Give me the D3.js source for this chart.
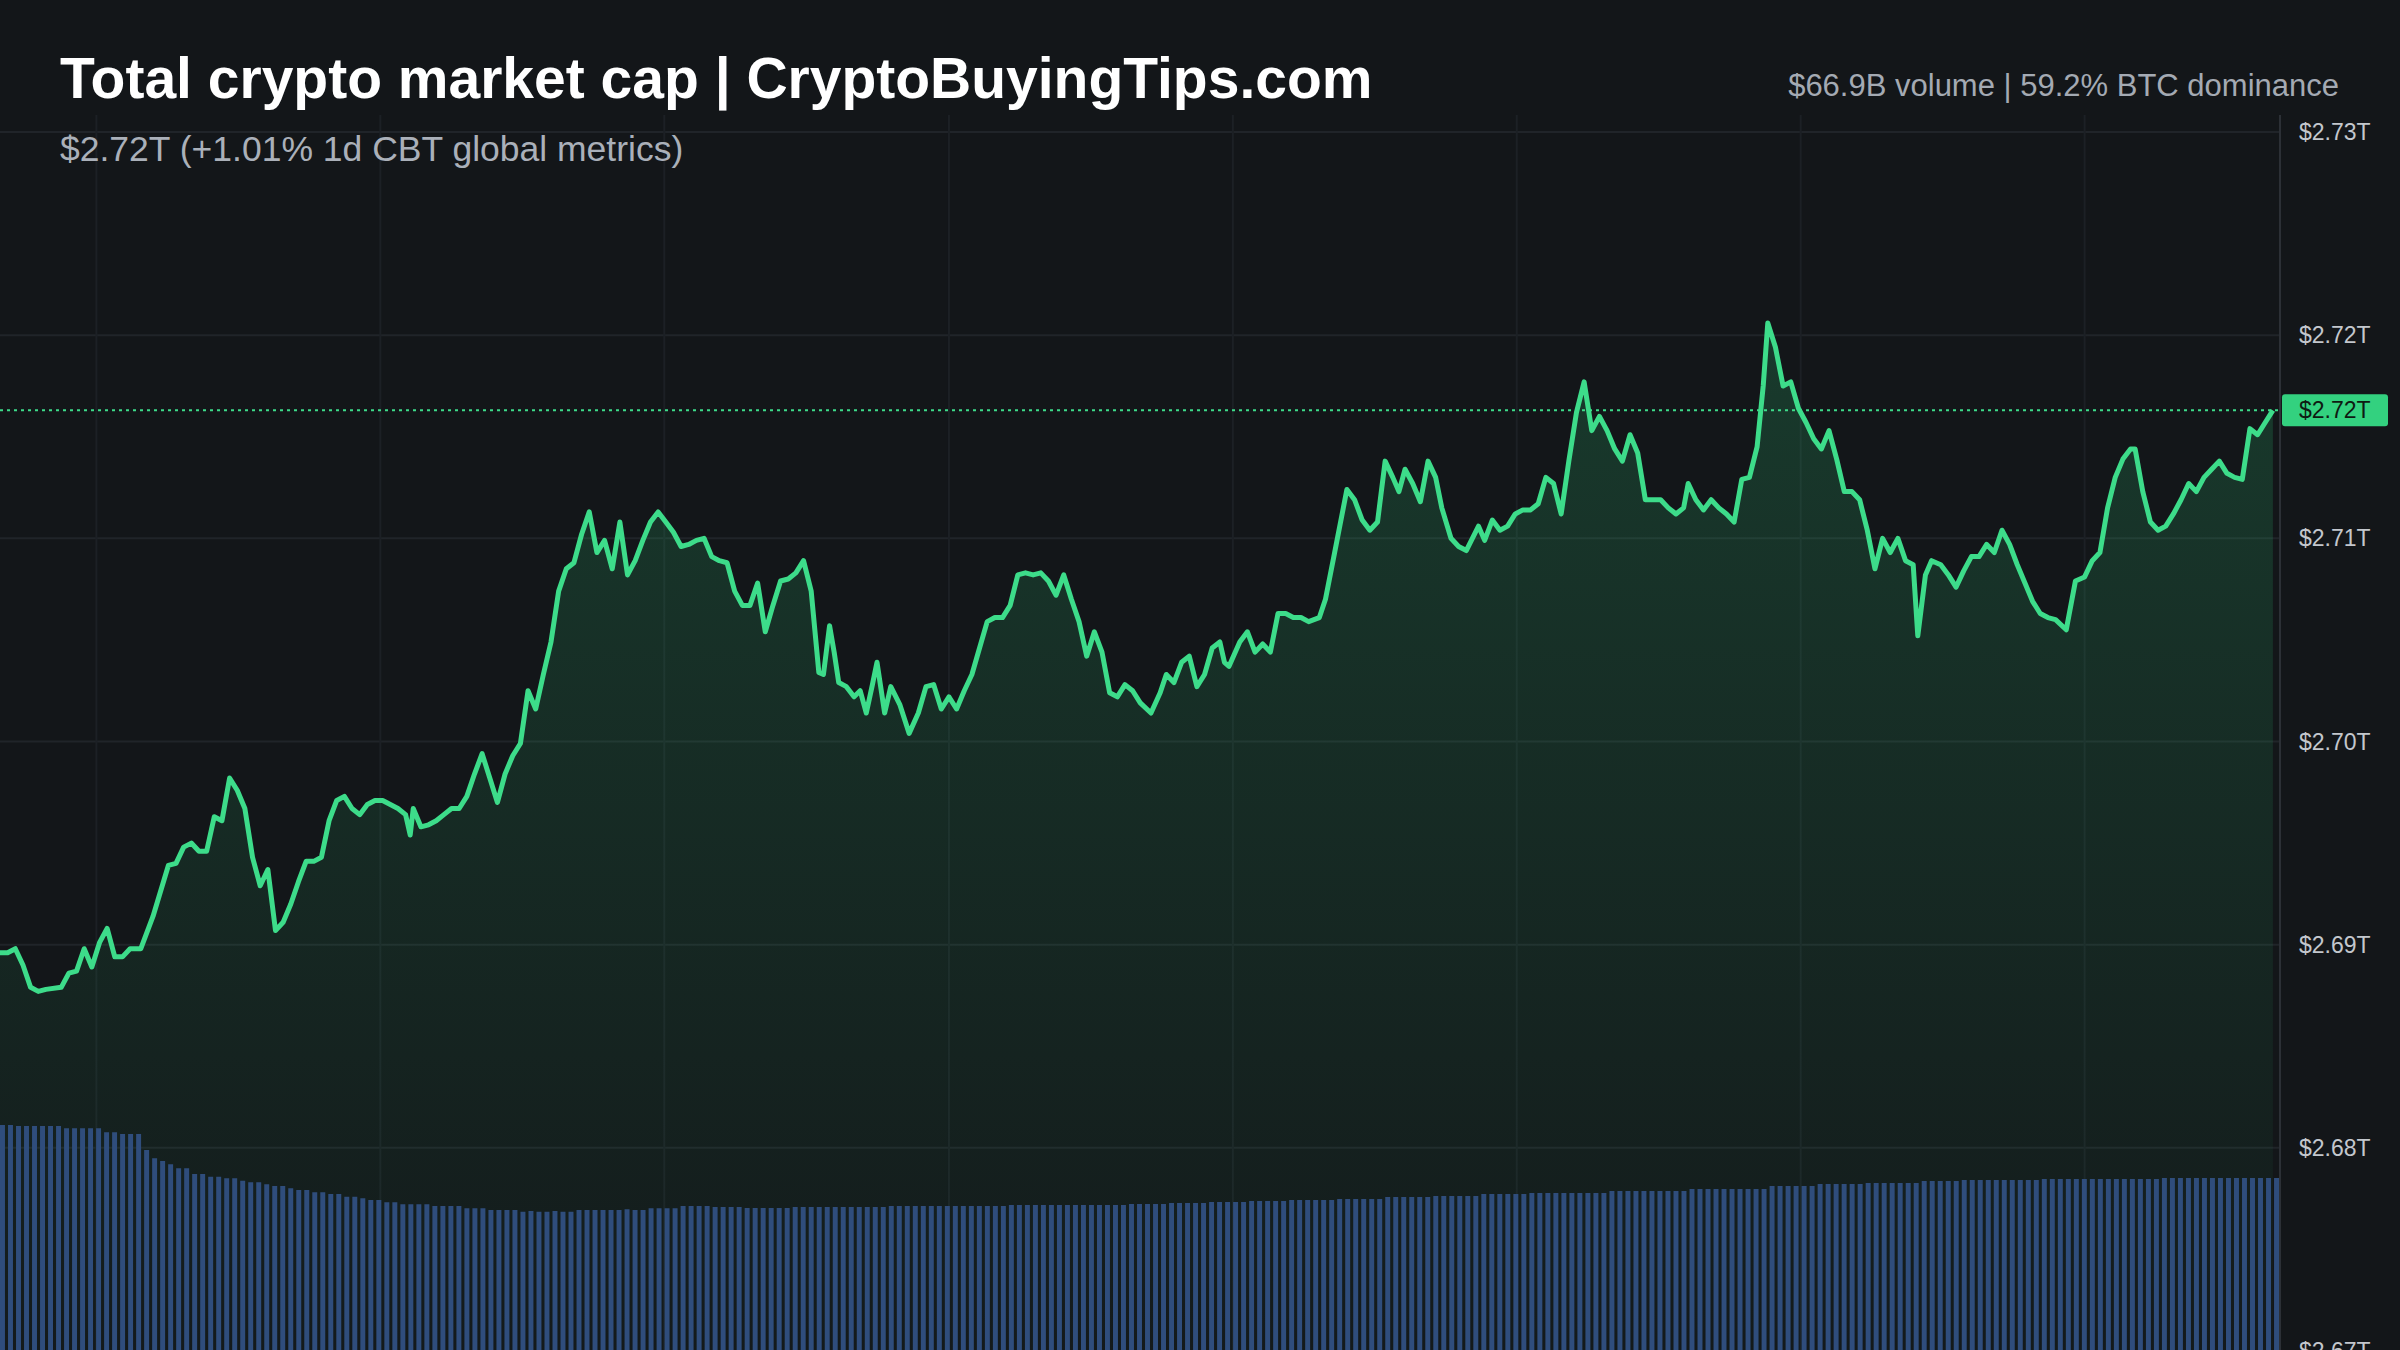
<!DOCTYPE html>
<html>
<head>
<meta charset="utf-8">
<script src="https://cdn.jsdelivr.net/npm/d3@7"></script>
<style>
  html, body { margin: 0; padding: 0; background: #131619; }
  svg { display: block; }
</style>
</head>
<body>
<svg id="chart" width="2400" height="1350"></svg>
<script>
// time offsets (chart units) and total market cap in $T
var times = [0,5,10,15,20,25,30,40,45,50,55,60,65,70,75,80,85,92,100,110,115,120,125,130,135,140,145,150,155,160,165,170,175,180,185,190,195,200,205,210,215,220,225,230,235,240,245,250,255,260,265,268,270,275,280,285,290,295,300,305,310,315,320,325,330,335,340,345,350,355,360,365,370,375,380,385,390,395,400,405,410,415,420,425,430,435,440,445,450,455,460,465,470,475,480,485,490,495,500,505,510,515,520,525,530,535,538,542,545,548,553,558,562,566,570,573,578,582,588,594,600,605,610,615,620,625,630,635,640,645,650,655,660,665,670,675,680,685,690,695,700,705,710,715,720,725,730,735,740,745,752,758,762,767,772,777,782,787,792,797,800,803,810,815,820,825,830,835,840,845,850,855,862,866,872,880,885,890,895,900,905,910,914,918,923,928,933,938,942,948,953,958,962,966,970,975,980,985,990,995,1000,1005,1010,1015,1020,1025,1030,1035,1040,1045,1050,1055,1060,1065,1070,1075,1080,1085,1090,1095,1100,1103,1108,1113,1118,1123,1128,1133,1138,1143,1148,1152,1155,1160,1165,1170,1175,1180,1185,1190,1195,1200,1205,1210,1215,1220,1225,1230,1235,1240,1245,1250,1253,1258,1262,1268,1273,1278,1283,1288,1293,1298,1303,1308,1313,1318,1323,1328,1333,1338,1343,1350,1356,1362,1367,1372,1377,1382,1387,1392,1395,1400,1405,1410,1415,1420,1425,1430,1435,1440,1445,1450,1455,1460,1465,1470,1475,1480,1485];
var marketCap = [2.6896,2.6896,2.6898,2.6890,2.6879,2.6877,2.6878,2.6879,2.6886,2.6887,2.6898,2.6889,2.6901,2.6908,2.6894,2.6894,2.6898,2.6898,2.6914,2.6939,2.6940,2.6948,2.6950,2.6946,2.6946,2.6963,2.6961,2.6982,2.6976,2.6967,2.6943,2.6929,2.6937,2.6907,2.6911,2.6920,2.6931,2.6941,2.6941,2.6943,2.6961,2.6971,2.6973,2.6967,2.6964,2.6969,2.6971,2.6971,2.6969,2.6967,2.6964,2.6954,2.6967,2.6958,2.6959,2.6961,2.6964,2.6967,2.6967,2.6973,2.6984,2.6994,2.6982,2.6970,2.6984,2.6993,2.6999,2.7025,2.7016,2.7033,2.7049,2.7074,2.7085,2.7088,2.7102,2.7113,2.7093,2.7099,2.7085,2.7108,2.7082,2.7089,2.7099,2.7108,2.7113,2.7108,2.7103,2.7096,2.7097,2.7099,2.7100,2.7091,2.7089,2.7088,2.7074,2.7067,2.7067,2.7078,2.7054,2.7067,2.7079,2.7080,2.7083,2.7089,2.7074,2.7034,2.7033,2.7057,2.7044,2.7029,2.7027,2.7022,2.7025,2.7014,2.7028,2.7039,2.7014,2.7027,2.7018,2.7004,2.7014,2.7027,2.7028,2.7016,2.7022,2.7016,2.7025,2.7033,2.7046,2.7059,2.7061,2.7061,2.7067,2.7082,2.7083,2.7082,2.7083,2.7079,2.7072,2.7082,2.7070,2.7059,2.7042,2.7054,2.7044,2.7024,2.7022,2.7028,2.7025,2.7019,2.7014,2.7024,2.7033,2.7029,2.7039,2.7042,2.7027,2.7033,2.7046,2.7049,2.7039,2.7037,2.7049,2.7054,2.7044,2.7048,2.7044,2.7063,2.7063,2.7061,2.7061,2.7059,2.7061,2.7070,2.7093,2.7124,2.7119,2.7109,2.7104,2.7108,2.7138,2.7130,2.7123,2.7134,2.7127,2.7118,2.7138,2.7130,2.7115,2.7100,2.7096,2.7094,2.7100,2.7106,2.7099,2.7109,2.7104,2.7106,2.7112,2.7114,2.7114,2.7117,2.7130,2.7127,2.7112,2.7138,2.7162,2.7177,2.7153,2.7160,2.7153,2.7144,2.7138,2.7151,2.7142,2.7119,2.7119,2.7119,2.7115,2.7112,2.7115,2.7127,2.7119,2.7114,2.7119,2.7115,2.7112,2.7108,2.7129,2.7130,2.7145,2.7175,2.7206,2.7194,2.7175,2.7177,2.7164,2.7157,2.7149,2.7144,2.7153,2.7139,2.7123,2.7123,2.7119,2.7104,2.7085,2.7100,2.7093,2.7100,2.7089,2.7087,2.7052,2.7082,2.7089,2.7087,2.7082,2.7076,2.7084,2.7091,2.7091,2.7097,2.7093,2.7104,2.7097,2.7087,2.7078,2.7069,2.7063,2.7061,2.7060,2.7055,2.7079,2.7081,2.7089,2.7093,2.7115,2.7130,2.7139,2.7144,2.7144,2.7123,2.7108,2.7104,2.7106,2.7112,2.7119,2.7127,2.7123,2.7130,2.7134,2.7138,2.7132,2.7130,2.7129,2.7154,2.7151,2.7157,2.7163];

// volume per bar (relative units)
var volume = [90,90,89.6,89.6,89.6,89.6,89.6,89.6,88.7,88.7,88.7,88.7,88.7,87.1,87.1,86.4,86.4,86.4,80,76.7,75.6,74.3,72.7,72.7,70.4,70.4,69.3,69.3,68.7,68.7,67.7,67.1,67.1,66.3,65.6,65.6,64.7,64,64,63.1,63.1,62.4,62.4,61.3,61.3,60.7,60,60,59.1,59.1,58.3,58.3,58.3,58.3,57.6,57.6,57.6,57.6,56.7,56.7,56.7,56,56,56,56,55.3,55.6,55.3,55.3,55.6,55.3,55.3,56,56,56,56,56,56,56.3,56,56,56.7,56.7,56.7,56.7,57.6,57.6,
  57.6,57.6,57.2,57.2,57.2,57.2,56.8,56.8,56.8,56.8,56.8,56.8,57.2,57.2,57.2,57.2,57.2,57.2,57.2,57.2,57.2,57.2,57.2,57.2,57.6,57.6,57.6,57.6,57.6,
  57.6,57.6,57.6,57.6,57.6,57.6,57.6,57.6,57.6,57.6,58,58,58,58,58,58,58,58,58,58,58,58,58,58,58,
  58.4,58.4,58.4,58.4,58.4,58.8,58.8,58.8,58.8,58.8,59.2,59.2,59.2,59.2,59.2,59.6,59.6,59.6,59.6,59.6,
  60,60,60,60,60,60,60.4,60.4,60.4,60.4,60.4,60.4,61.2,61.2,61.2,61.2,61.2,61.2,61.6,61.6,61.6,61.6,61.6,61.6,62.4,62.4,62.4,62.4,62.4,62.4,
  62.8,62.8,62.8,62.8,62.8,62.8,62.8,62.8,62.8,62.8,63.6,63.6,63.6,63.6,63.6,63.6,63.6,63.6,63.6,63.6,64.4,64.4,64.4,64.4,64.4,64.4,64.4,64.4,64.4,64.4,
  65.6,65.6,65.6,65.6,65.6,65.6,66.4,66.4,66.4,66.4,66.4,66.4,66.8,66.8,66.8,66.8,66.8,66.8,66.8,
  67.6,67.6,67.6,67.6,67.6,68,68,68,68,68,68,68,68,68,68,68.4,68.4,68.4,68.4,68.4,68.4,68.4,68.4,68.4,68.4,68.4,68.4,68.4,68.4,68.4,68.8,68.8,68.8,68.8,68.8,68.8,68.8,68.8,68.8,68.8,68.8,68.8,68.8,68.8,68.8];

var yTicks = [2.73, 2.72, 2.71, 2.70, 2.69, 2.68, 2.67];
var xGridTimes = [63, 248.5, 434, 620, 805.5, 991, 1176.5, 1362];

var title = "Total crypto market cap | CryptoBuyingTips.com";
var subtitle = "$2.72T (+1.01% 1d CBT global metrics)";
var statsText = "$66.9B volume | 59.2% BTC dominance";

var W = 2400, H = 1350, plotRight = 2279;
var svg = d3.select("#chart");

var x = d3.scaleLinear().domain([0, 1489]).range([0, plotRight]);
var y = d3.scaleLinear().domain([2.67, 2.73]).range([1351, 132]);
var vy = d3.scaleLinear().domain([0, 100]).range([H, H - 250]);
var bx = d3.scaleBand().domain(d3.range(volume.length)).range([0, plotRight]).paddingInner(0.38);

var defs = svg.append("defs");
var grad = defs.append("linearGradient").attr("id", "areaGrad")
  .attr("x1", 0).attr("y1", 0).attr("x2", 0).attr("y2", 1);
grad.append("stop").attr("offset", "0%").attr("stop-color", "#2ecc7a").attr("stop-opacity", 0.2);
grad.append("stop").attr("offset", "100%").attr("stop-color", "#2ecc7a").attr("stop-opacity", 0.02);

// grid
svg.append("g").selectAll("line").data(yTicks).enter().append("line")
  .attr("x1", 0).attr("x2", plotRight)
  .attr("y1", function(d) { return y(d); }).attr("y2", function(d) { return y(d); })
  .attr("stroke", "#202429").attr("stroke-width", 2);
svg.append("g").selectAll("line").data(xGridTimes).enter().append("line")
  .attr("x1", function(d) { return x(d); }).attr("x2", function(d) { return x(d); })
  .attr("y1", 115).attr("y2", H)
  .attr("stroke", "#1c2025").attr("stroke-width", 2);

var pts = times.map(function(t, i) { return [t, marketCap[i]]; });

svg.append("path").datum(pts)
  .attr("fill", "url(#areaGrad)")
  .attr("d", d3.area().x(function(d) { return x(d[0]); }).y0(H).y1(function(d) { return y(d[1]); }));

// volume bars
svg.append("g").selectAll("rect").data(volume).enter().append("rect")
  .attr("x", function(d, i) { return bx(i); })
  .attr("width", bx.bandwidth())
  .attr("y", function(d) { return vy(d); })
  .attr("height", function(d) { return H - vy(d); })
  .attr("fill", "#2f4d7c");

svg.append("path").datum(pts)
  .attr("fill", "none").attr("stroke", "#3ddc8a").attr("stroke-width", 5)
  .attr("stroke-linejoin", "round")
  .attr("d", d3.line().x(function(d) { return x(d[0]); }).y(function(d) { return y(d[1]); }));

// right axis
svg.append("line").attr("x1", plotRight + 1).attr("x2", plotRight + 1)
  .attr("y1", 115).attr("y2", H).attr("stroke", "#2c3036").attr("stroke-width", 2);
var fmt = function(d) { return "$" + d3.format(".2f")(d) + "T"; };
svg.append("g").selectAll("text").data(yTicks).enter().append("text")
  .attr("x", 2299).attr("y", function(d) { return y(d) + 8; })
  .attr("fill", "#c3c7cd").attr("font-family", "Liberation Sans, Arial, sans-serif")
  .attr("font-size", 23).text(fmt);

// last price marker
var last = marketCap[marketCap.length - 1];
svg.append("line").attr("x1", 0).attr("x2", plotRight)
  .attr("y1", y(last)).attr("y2", y(last))
  .attr("stroke", "#3ddc8a").attr("stroke-width", 2).attr("stroke-dasharray", "3,4");
svg.append("rect").attr("x", plotRight + 3).attr("y", y(last) - 16)
  .attr("width", 106).attr("height", 32).attr("rx", 3).attr("fill", "#33d17f");
svg.append("text").attr("x", 2299).attr("y", y(last) + 8)
  .attr("fill", "#0e1a12").attr("font-family", "Liberation Sans, Arial, sans-serif")
  .attr("font-size", 23).text(fmt(last));

// headings
svg.append("text").attr("x", 60).attr("y", 98)
  .attr("fill", "#ffffff").attr("font-family", "Liberation Sans, Arial, sans-serif")
  .attr("font-weight", "bold").attr("font-size", 57).text(title);
svg.append("text").attr("x", 60).attr("y", 161)
  .attr("fill", "#aab0b9").attr("font-family", "Liberation Sans, Arial, sans-serif")
  .attr("font-size", 35.5).text(subtitle);
svg.append("text").attr("x", 2339).attr("y", 96).attr("text-anchor", "end")
  .attr("fill", "#a4aab3").attr("font-family", "Liberation Sans, Arial, sans-serif")
  .attr("font-size", 31).text(statsText);
</script>
</body>
</html>
